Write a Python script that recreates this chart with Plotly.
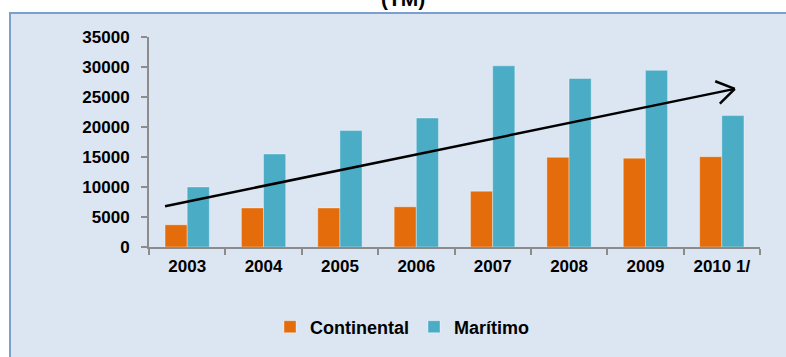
import math
import plotly.graph_objects as go

# Annual volumes (TM) by transport mode
years = ["2003", "2004", "2005", "2006", "2007", "2008", "2009", "2010 1/"]
continental = [3700, 6500, 6500, 6700, 9300, 14950, 14800, 15050]
maritimo = [10000, 15500, 19400, 21500, 30200, 28100, 29450, 21900]

# Trend arrow endpoints (category index, value)
trend_start = (-0.29, 6800)
trend_end = (7.17, 26350)

W, H = 786, 357
ML, MR, MT, MB = 149, 26, 37, 110
PW, PH = W - ML - MR, H - MT - MB
YMAX = 35000
FONT = "Liberation Sans, Arial, sans-serif"

ORANGE = "#E46C0A"
TEAL = "#4BACC6"
BG = "#DCE6F2"
BORDER = "#7BA0CD"
AXIS = "#8C8C8C"

fig = go.Figure()
fig.add_bar(name="Continental", x=years, y=continental,
            marker=dict(color=ORANGE, line=dict(color="rgba(255,255,255,0.35)", width=1)))
fig.add_bar(name="Marítimo", x=years, y=maritimo,
            marker=dict(color=TEAL, line=dict(color="rgba(255,255,255,0.35)", width=1)))


def px_x(p):
    return (p - ML) / PW


def px_y(p):
    return (MT + PH - p) / PH


shapes = [
    # chart-area panel with its border
    dict(type="rect", xref="paper", yref="paper",
         x0=px_x(10), x1=px_x(W + 20), y0=px_y(H + 20), y1=px_y(13),
         fillcolor=BG, line=dict(color=BORDER, width=2), layer="below"),
]

# trend arrow: shaft plus an open "V" head
sx, sy = trend_start
ex, ey = trend_end
shapes.append(dict(type="line", xref="x", yref="y", x0=sx, y0=sy, x1=ex, y1=ey,
                   line=dict(color="black", width=2.5)))
kx = PW / len(years)      # px per category
ky = PH / YMAX            # px per unit value
dxp, dyp = (ex - sx) * kx, (ey - sy) * ky
ang = math.atan2(dyp, dxp)
head_len, head_ang = 21, math.radians(33)
for s in (1, -1):
    a = ang + math.pi + s * head_ang
    wx = ex + head_len * math.cos(a) / kx
    wy = ey + head_len * math.sin(a) / ky
    shapes.append(dict(type="line", xref="x", yref="y", x0=ex, y0=ey, x1=wx, y1=wy,
                       line=dict(color="black", width=2.5)))

fig.update_layout(
    width=W, height=H,
    margin=dict(l=ML, r=MR, t=MT, b=MB, pad=0),
    paper_bgcolor="white",
    plot_bgcolor="rgba(0,0,0,0)",
    barmode="group", bargap=0.42, bargroupgap=0,
    font=dict(family=FONT, size=17, color="black"),
    shapes=shapes,
    showlegend=True,
    legend=dict(orientation="h", x=px_x(270), y=px_y(327), xanchor="left", yanchor="middle",
                font=dict(family=FONT, size=18, color="black", weight="bold"),
                bgcolor="rgba(0,0,0,0)", itemwidth=30, traceorder="normal"),
    annotations=[dict(text="<b>(TM)</b>", xref="paper", yref="paper",
                      x=px_x(403), y=px_y(12), xanchor="center", yanchor="bottom",
                      showarrow=False, font=dict(family=FONT, size=21, color="black"))],
)

fig.update_xaxes(type="category", showline=True, linecolor=AXIS, linewidth=2,
                 ticks="outside", ticklen=6, tickcolor=AXIS, tickwidth=2,
                 tickson="boundaries", showgrid=False, zeroline=False,
                 tickfont=dict(family=FONT, size=17, weight="bold"),
                 ticklabelstandoff=3)
fig.update_yaxes(range=[0, YMAX], dtick=5000, showline=True, linecolor=AXIS, linewidth=2,
                 ticks="outside", ticklen=6, tickcolor=AXIS, tickwidth=2,
                 showgrid=False, zeroline=False, tickformat="d",
                 tickfont=dict(family=FONT, size=17, weight="bold"),
                 ticklabelstandoff=8)

fig.write_html("out.html")
